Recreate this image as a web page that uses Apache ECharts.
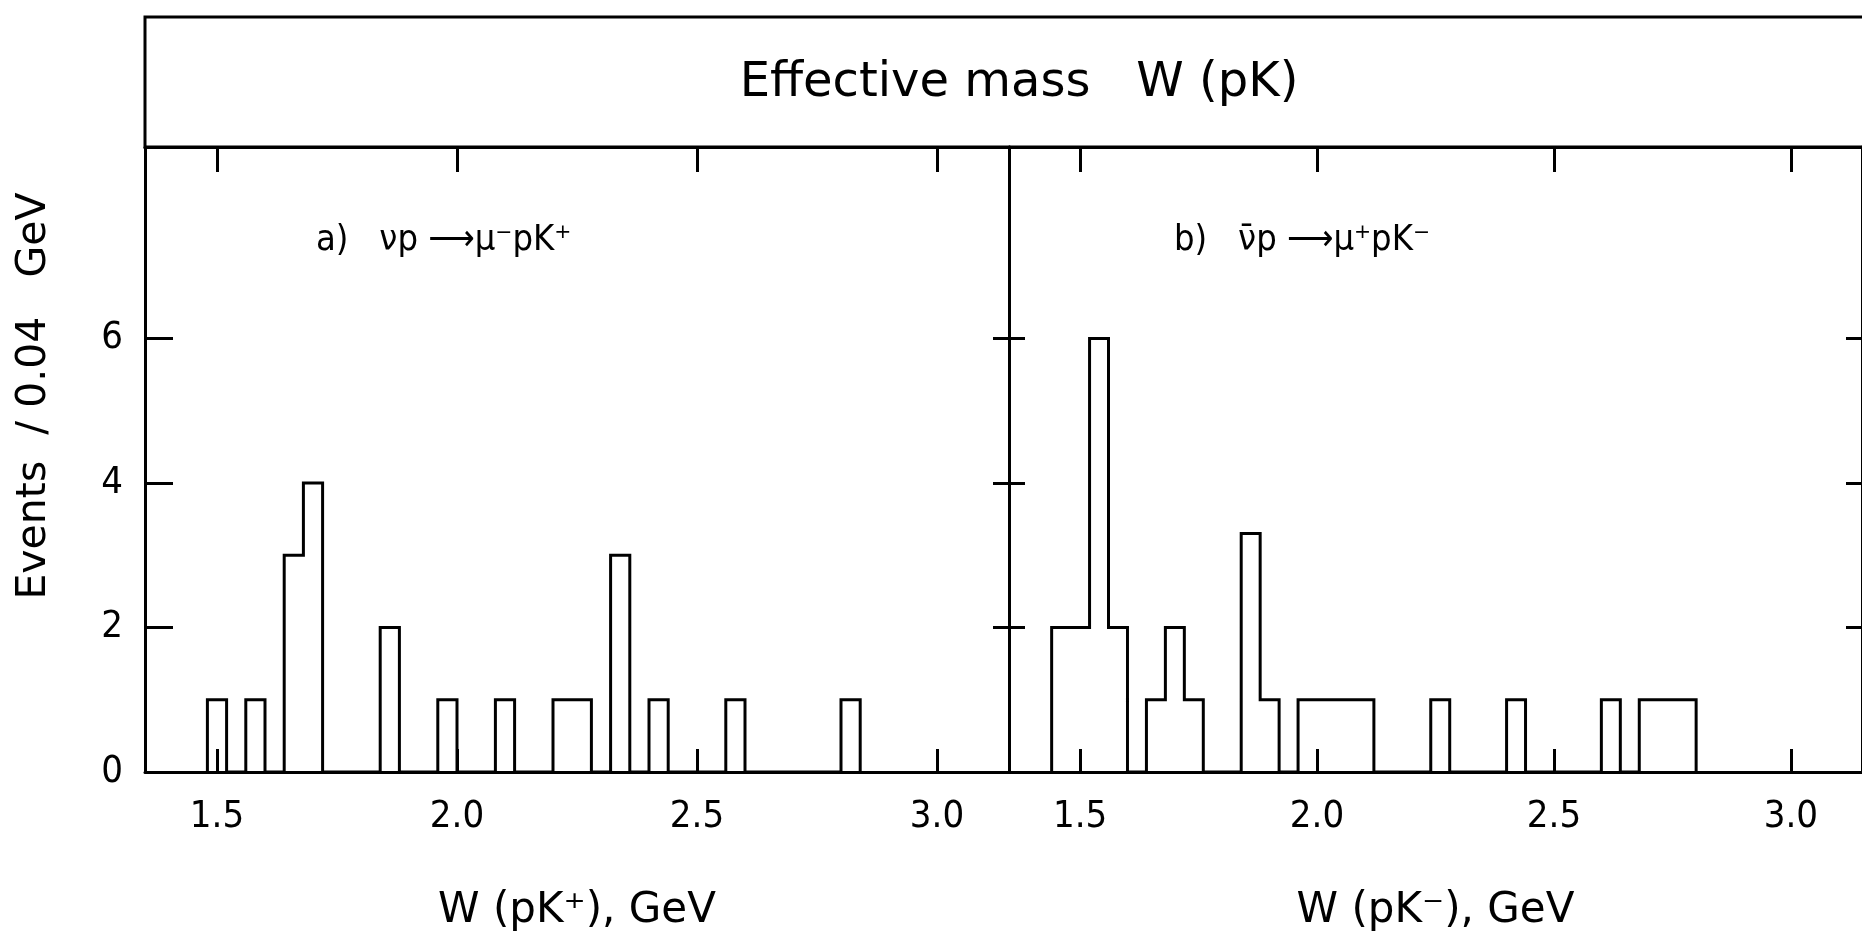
<!DOCTYPE html>
<html><head><meta charset="utf-8">
<script src="https://cdn.jsdelivr.net/npm/echarts@6/dist/echarts.min.js"></script>
<style>html,body{margin:0;padding:0;background:#fff}#c{width:1862px;height:937px}</style>
</head><body><div id="c"></div>
<script>
const FONT = "'DejaVu Sans Condensed', 'Liberation Sans Narrow', 'DejaVu Sans', sans-serif";
const FONT_WIDE = "'DejaVu Sans', sans-serif";

// axis ticks / labels
const xTickValues = [1.5, 2.0, 2.5, 3.0];
const yLabelValues = [0, 2, 4, 6];
const yTickValues = [2, 4, 6];

// panel a) νp → μ⁻pK⁺  (bins of 0.04 GeV)
const binLowA  = [1.48, 1.56, 1.64, 1.68, 1.84, 1.96, 2.08, 2.20, 2.24, 2.32, 2.40, 2.56, 2.80];
const binHighA = [1.52, 1.60, 1.68, 1.72, 1.88, 2.00, 2.12, 2.24, 2.28, 2.36, 2.44, 2.60, 2.84];
const countsA  = [1, 1, 3, 4, 2, 1, 1, 1, 1, 3, 1, 1, 1];

// panel b) ν̄p → μ⁺pK⁻
const binLowB  = [1.44, 1.48, 1.52, 1.56, 1.64, 1.68, 1.72, 1.84, 1.88, 1.96, 2.00, 2.04, 2.08, 2.24, 2.40, 2.60, 2.68, 2.72, 2.76];
const binHighB = [1.48, 1.52, 1.56, 1.60, 1.68, 1.72, 1.76, 1.88, 1.92, 2.00, 2.04, 2.08, 2.12, 2.28, 2.44, 2.64, 2.72, 2.76, 2.80];
const countsB  = [2, 2, 6, 2, 1, 2, 1, 3.3, 1, 1, 1, 1, 1, 1, 1, 1, 1, 1, 1];

// text
const titleText = 'Effective mass   W (pK)';
const yName = 'Events  / 0.04   GeV';
const xNameA = 'W (pK⁺), GeV';
const xNameB = 'W (pK⁻), GeV';
const labelA = 'a)   νp ⟶μ⁻pK⁺';
const labelB = 'b)   ν̄p ⟶μ⁺pK⁻';

function outline(lo, hi, c) {
  const pts = [];
  for (let i = 0; i < lo.length; i++) {
    const contiguous = i > 0 && Math.abs(lo[i] - hi[i - 1]) < 1e-6;
    if (!contiguous) {
      if (i > 0) pts.push([hi[i - 1], 0]);
      pts.push([lo[i], 0]);
    }
    pts.push([lo[i], c[i]]);
    pts.push([hi[i], c[i]]);
  }
  pts.push([hi[hi.length - 1], 0]);
  return pts;
}

const LW = 3;
const axisLine = { show: true, onZero: false, lineStyle: { color: '#000', width: LW } };
const tickFont = { color: '#000', fontFamily: FONT, fontSize: 38 };

function xAxes(gi, name) {
  return [
    { type: 'value', gridIndex: gi, position: 'bottom', min: 1.35, max: 3.15,
      axisLine, splitLine: { show: false },
      axisTick: { show: true, inside: true, length: 23, customValues: xTickValues, lineStyle: { color: '#000', width: LW } },
      axisLabel: { show: true, customValues: xTickValues, margin: 26, formatter: v => v.toFixed(1), ...tickFont },
      name, nameLocation: 'middle', nameGap: 118,
      nameTextStyle: { color: '#000', fontFamily: FONT_WIDE, fontSize: 42 } },
    { type: 'value', gridIndex: gi, position: 'top', min: 1.35, max: 3.15,
      axisLine, splitLine: { show: false },
      axisTick: { show: true, inside: true, length: 25, customValues: xTickValues, lineStyle: { color: '#000', width: LW } },
      axisLabel: { show: false } }
  ];
}
function yAxes(gi, leftLen, showLabels) {
  return [
    { type: 'value', gridIndex: gi, position: 'left', min: 0, max: 8.65,
      axisLine, splitLine: { show: false },
      axisTick: { show: true, inside: true, length: leftLen, customValues: yTickValues, lineStyle: { color: '#000', width: LW } },
      axisLabel: { show: showLabels, customValues: yLabelValues, margin: 22, ...tickFont } },
    { type: 'value', gridIndex: gi, position: 'right', min: 0, max: 8.65,
      axisLine, splitLine: { show: false },
      axisTick: { show: true, inside: true, length: 16, customValues: yTickValues, lineStyle: { color: '#000', width: LW } },
      axisLabel: { show: false } }
  ];
}

const chart = echarts.init(document.getElementById('c'), null, { renderer: 'canvas' });
chart.setOption({
  animation: false,
  backgroundColor: '#fff',
  grid: [
    { left: 145, top: 147, width: 864, height: 625 },
    { left: 1009, top: 147, width: 864, height: 625 }
  ],
  xAxis: [...xAxes(0, xNameA), ...xAxes(1, xNameB)],
  yAxis: [...yAxes(0, 28, true), ...yAxes(1, 16, false)],
  graphic: [
    { type: 'rect', shape: { x: 145, y: 17, width: 1730, height: 130 },
      style: { fill: 'none', stroke: '#000', lineWidth: LW } },
    { type: 'text', x: 1019, y: 84,
      style: { text: titleText, fill: '#000', font: '48px ' + FONT_WIDE, textAlign: 'center', textVerticalAlign: 'middle' } },
    { type: 'text', x: 34, y: 396, rotation: Math.PI / 2,
      style: { text: yName, fill: '#000', font: '41px ' + FONT_WIDE, textAlign: 'center', textVerticalAlign: 'middle' } },
    { type: 'text', x: 316, y: 241,
      style: { text: labelA, fill: '#000', font: '36px ' + FONT, textAlign: 'left', textVerticalAlign: 'middle' } },
    { type: 'text', x: 1174, y: 241,
      style: { text: labelB, fill: '#000', font: '36px ' + FONT, textAlign: 'left', textVerticalAlign: 'middle' } }
  ],
  series: [
    { type: 'line', xAxisIndex: 0, yAxisIndex: 0, data: outline(binLowA, binHighA, countsA),
      showSymbol: false, symbol: 'none', lineStyle: { color: '#000', width: LW, join: 'miter' }, z: 5 },
    { type: 'line', xAxisIndex: 2, yAxisIndex: 2, data: outline(binLowB, binHighB, countsB),
      showSymbol: false, symbol: 'none', lineStyle: { color: '#000', width: LW, join: 'miter' }, z: 5 }
  ]
});
</script></body></html>
